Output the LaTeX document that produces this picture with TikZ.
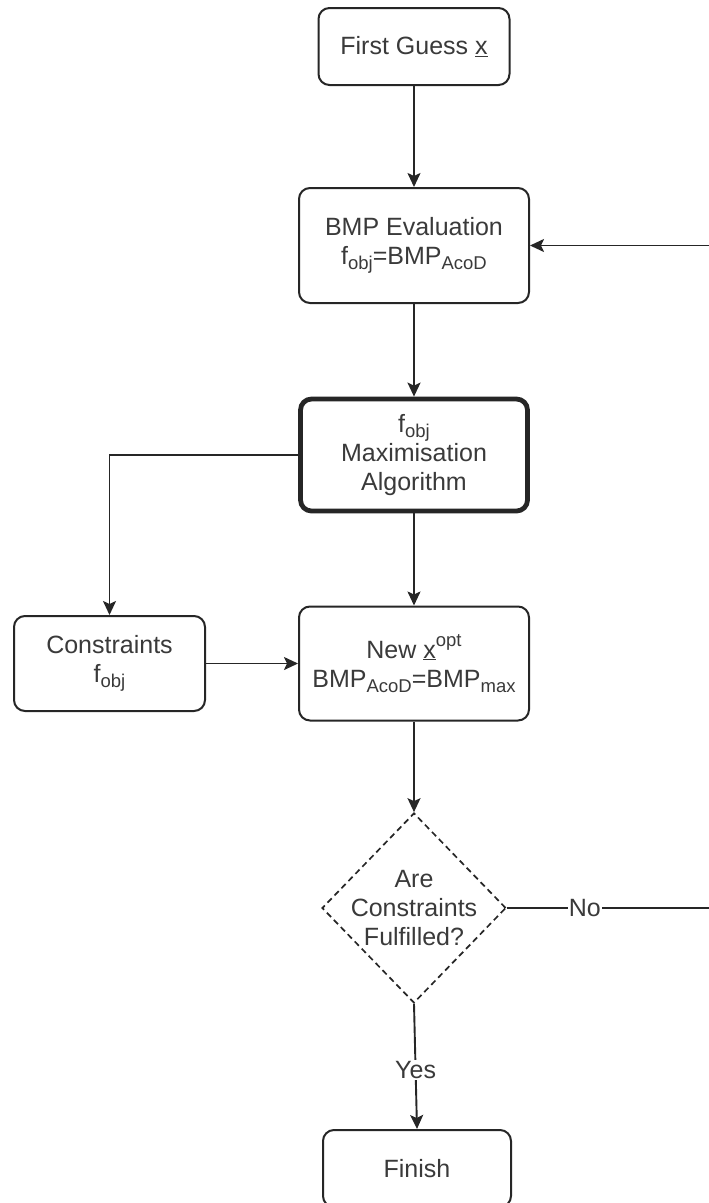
\documentclass[tikz,border=0pt]{standalone}
\usepackage{fontspec}
\setmainfont{Liberation Sans}
\usetikzlibrary{arrows.meta,shapes.geometric}
\newcommand{\sbs}[1]{\raisebox{-0.38ex}{\fontsize{18.5}{18.5}\selectfont #1}}
\newcommand{\sps}[1]{\raisebox{0.85ex}{\fontsize{18.5}{18.5}\selectfont #1}}
\definecolor{ln}{HTML}{262626}
\definecolor{tx}{HTML}{3A3A3A}
\tikzset{
  box/.style={draw=ln, line width=2pt, rounded corners=11pt, fill=white, inner sep=0pt,
    align=center, text=tx, font=\fontsize{25}{29}\selectfont},
  thickbox/.style={box, line width=4.8pt},
  decision/.style={diamond, draw=ln, line width=1.7pt, dash pattern=on 6pt off 4pt, inner sep=0pt,
    minimum width=184pt, minimum height=190pt},
  dtext/.style={align=center, text=tx, font=\fontsize{25}{29}\selectfont, inner sep=0pt},
  conn/.style={draw=ln, line width=1.9pt, -{Stealth[length=14pt,width=13pt,inset=3pt]}},
  plain/.style={draw=ln, line width=1.9pt},
  lbl/.style={fill=white, text=tx, font=\fontsize{25}{29}\selectfont, inner sep=1pt}
}
\begin{document}
\begin{tikzpicture}[x=1pt,y=-1pt]
\useasboundingbox (0,0) rectangle (709,1203);
\node[box, minimum width=191pt, minimum height=77pt] (first) at (414,46.5) {First Guess \underline{x}};
\node[box, minimum width=230pt, minimum height=115pt] (bmp) at (414,245.5) {BMP Evaluation\\f\sbs{obj}=BMP\sbs{AcoD}};
\node[thickbox, minimum width=227pt, minimum height=112pt] (maxi) at (414,455) {f\sbs{obj}\\Maximisation\\Algorithm};
\node[box, minimum width=191pt, minimum height=95pt] (cons) at (109.5,663.5) {Constraints\\f\sbs{obj}};
\node[box, minimum width=230pt, minimum height=114pt] (new) at (414,663.5) {New \underline{x}\sps{opt}\\BMP\sbs{AcoD}=BMP\sbs{max}};
\node[decision] (dia) at (414,908) {};
\node[dtext] (diatext) at (dia.center) {Are\\Constraints\\Fulfilled?};
\node[box, minimum width=188pt, minimum height=77pt] (finish) at (417,1168.5) {Finish};
\coordinate (rin) at (712,245.5);
\coordinate (rout) at (712,908);
\coordinate (bend) at (109.5,455);

\draw[conn] (first) -- (bmp);
\draw[conn] (bmp) -- (maxi);
\draw[conn] (rin) -- (bmp.east);
\draw[conn] (maxi.west) -- (bend) -- (cons.north);
\draw[conn] (maxi) -- (new);
\draw[conn] (cons.east) -- (new.west);
\draw[conn] (new) -- (dia.north);
\draw[conn] (dia.south) -- node[lbl, pos=0.53] (yes) {Yes} (finish.north);
\draw[plain] (dia.east) -- node[lbl, pos=0.38] (no) {No} (rout);
\end{tikzpicture}
\end{document}
